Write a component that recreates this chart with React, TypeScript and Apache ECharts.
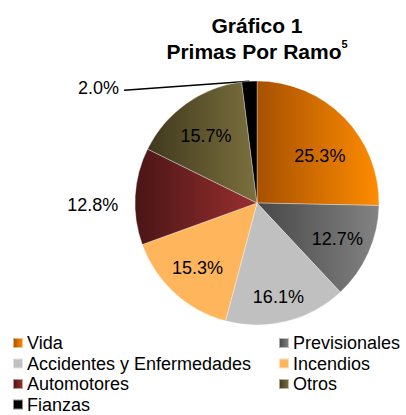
import React, { useEffect, useRef } from "react";
import * as echarts from "echarts";

const categories = [
  "Vida",
  "Previsionales",
  "Accidentes y Enfermedades",
  "Incendios",
  "Automotores",
  "Otros",
  "Fianzas",
];
const shares = [25.3, 12.7, 16.1, 15.3, 12.8, 15.7, 2.0];
const outsideLabelNames = ["Automotores", "Fianzas"];
const legendLeft = ["Vida", "Accidentes y Enfermedades", "Automotores", "Fianzas"];
const legendRight = ["Previsionales", "Incendios", "Otros"];

const FONT = "'Liberation Sans', Arial, sans-serif";

const grad = (a: string, b: string) => ({
  type: "linear",
  x: 0,
  y: 0,
  x2: 1,
  y2: 0,
  colorStops: [
    { offset: 0, color: a },
    { offset: 1, color: b },
  ],
});

const sliceColors: Record<string, any> = {
  Vida: grad("#a65000", "#ff8c00"),
  Previsionales: grad("#474747", "#838383"),
  "Accidentes y Enfermedades": "#c0c0c0",
  Incendios: "#ffb55c",
  Automotores: grad("#4a1516", "#992f2f"),
  Otros: grad("#3f391e", "#7c703e"),
  Fianzas: "#000000",
};

export default function App() {
  const ref = useRef<HTMLDivElement>(null);
  useEffect(() => {
    document.body.style.margin = "0";
    if (!ref.current) return;
    const chart = echarts.init(ref.current, undefined, { renderer: "svg" });
    const fmt = (p: any) => Number(p.value).toFixed(1) + "%";
    const mainData = categories.map((name, i) => {
      const item: any = {
        name,
        value: shares[i],
        itemStyle: { color: sliceColors[name] },
      };
      if (name === "Automotores") {
        item.label = { show: true, position: "outside" };
        item.labelLine = { show: false, length: 12, length2: 0 };
      } else if (name === "Fianzas") {
        item.label = { show: true, position: "outside" };
        item.labelLine = { show: true, length: 4, length2: 125 };
      } else {
        item.label = { show: false };
      }
      return item;
    });
    const ghostData = categories.map((name, i) => ({
      name,
      value: shares[i],
      label: { show: !outsideLabelNames.includes(name) },
    }));
    const legendCommon = {
      orient: "vertical",
      top: 334,
      height: 100,
      itemWidth: 10,
      itemHeight: 10,
      itemGap: 2.5,
      padding: 0,
      icon: "rect",
      selectedMode: false,
      textStyle: { fontSize: 18, fontFamily: FONT, color: "#000", padding: [0, 0, 0, -1] },
    };
    chart.setOption({
      animation: false,
      title: {
        text: "{t|Gráfico 1}\n{t|Primas Por Ramo}{s|5}",
        left: 257,
        top: 12,
        padding: 0,
        textAlign: "center",
        textStyle: {
          rich: {
            t: { fontSize: 21, fontWeight: "bold", fontFamily: FONT, lineHeight: 26, color: "#000" },
            s: { fontSize: 11, fontWeight: "bold", fontFamily: FONT, lineHeight: 14, verticalAlign: "top", color: "#000" },
          },
        },
      },
      legend: [
        { ...legendCommon, left: 12, data: legendLeft },
        { ...legendCommon, left: 278, data: legendRight },
      ],
      series: [
        {
          type: "pie",
          center: [257, 203],
          radius: 122,
          startAngle: 90,
          clockwise: true,
          avoidLabelOverlap: false,
          itemStyle: { borderColor: "rgba(255,255,255,0.55)", borderWidth: 0.6 },
          label: { show: false, color: "#000", fontSize: 18, fontFamily: FONT, formatter: fmt },
          labelLine: { show: false, lineStyle: { color: "#000", width: 1.5 } },
          labelLayout: (params: any) => {
            const name = categories[params.dataIndex];
            if (name === "Automotores") return { dy: 9 };
            if (name === "Fianzas") {
              const pts = params.labelLinePoints;
              if (pts && pts.length) {
                const last = pts[pts.length - 1];
                return {
                  dy: 11,
                  labelLinePoints: [pts[0], [last[0], last[1] + 13], [last[0], last[1] + 13]],
                };
              }
              return { dy: 11 };
            }
            return {};
          },
          data: mainData,
        },
        {
          type: "pie",
          center: [257, 203],
          radius: 170,
          startAngle: 90,
          clockwise: true,
          silent: true,
          itemStyle: { color: "transparent", borderWidth: 0 },
          label: { position: "inside", color: "#000", fontSize: 18, fontFamily: FONT, formatter: fmt },
          labelLine: { show: false },
          labelLayout: (params: any) => {
            const name = categories[params.dataIndex];
            if (name === "Vida") return { dy: 15 };
            if (name === "Accidentes y Enfermedades") return { dy: 9 };
            if (name === "Otros") return { dy: 5 };
            return {};
          },
          data: ghostData,
        },
      ],
    });
    return () => chart.dispose();
  }, []);
  return <div ref={ref} style={{ width: 406, height: 415 }} />;
}
